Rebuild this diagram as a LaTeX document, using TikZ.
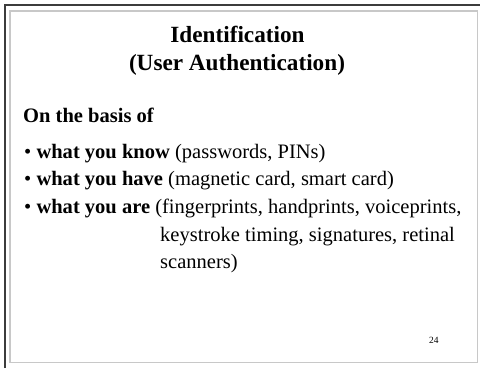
\documentclass[tikz,border=0pt]{standalone}
\usepackage{fontspec}
\setmainfont{Liberation Serif}
\definecolor{framedark}{HTML}{3C3C3C}
\definecolor{framelight}{HTML}{C8C8C8}
\begin{document}
\begin{tikzpicture}[x=1bp,y=-1bp,
  txt/.style={anchor=base west,inner sep=0pt,font=\fontsize{20.6}{24}\selectfont},
  ttl/.style={anchor=base,inner sep=0pt,font=\fontsize{23.3}{28}\selectfont\bfseries},
  pg/.style={anchor=base west,inner sep=0pt,font=\fontsize{9.5}{11}\selectfont}]
\useasboundingbox (0,0) rectangle (480,368);
\fill[white] (0,0) rectangle (480,368);
% frame
\draw[framedark,line width=1.6bp] (5,368) -- (5,5) -- (480,5);
\draw[framelight,line width=1.5bp] (10,11) rectangle (477.5,362.5);
% title
\node[ttl] (t1) at (237.5,42.5) {Identification};
\node[ttl] (t2) at (237,70) {(User Authentication)};
% body
\node[txt] (basis) at (23,122) {\textbf{On the basis of}};
\node[txt] (l1) at (24,158) {\textbullet\ \textbf{what you know} (passwords, PINs)};
\node[txt] (l2) at (24,185) {\textbullet\ \textbf{what you have} (magnetic card, smart card)};
\node[txt] (l3) at (24,213) {\textbullet\ \textbf{what you are} (fingerprints, handprints, voiceprints,};
\node[txt] (l4) at (160,241) {keystroke timing, signatures, retinal};
\node[txt] (l5) at (160,268) {scanners)};
\node[pg] (pn) at (429,343) {24};
\end{tikzpicture}
\end{document}
